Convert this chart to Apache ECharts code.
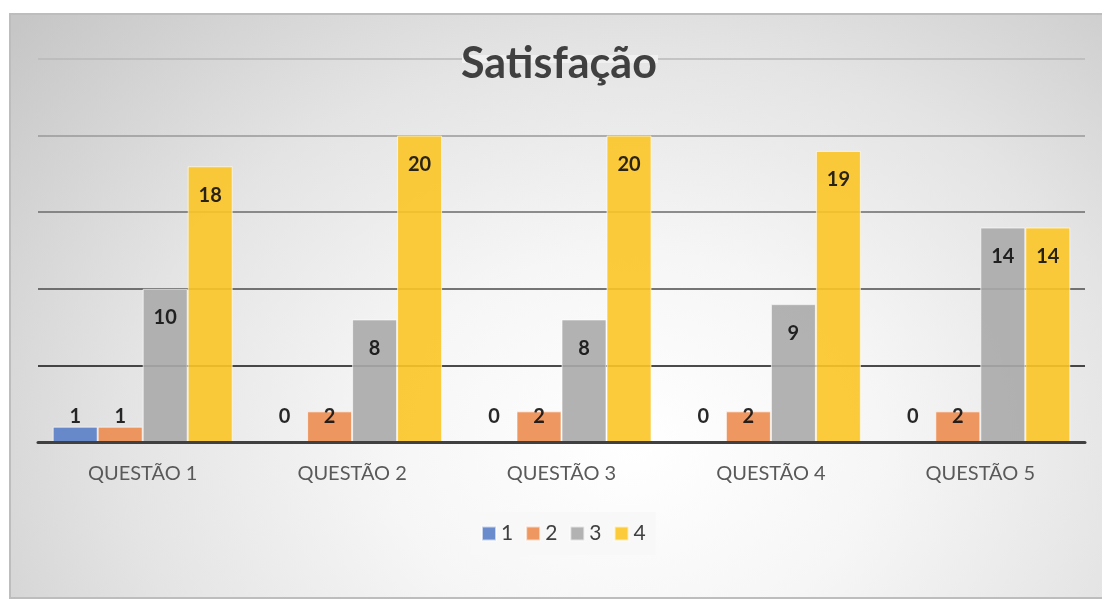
<!DOCTYPE html>
<html>
<head>
<meta charset="utf-8">
<script src="https://cdn.jsdelivr.net/npm/echarts@6/dist/echarts.min.js"></script>
<style>
  html, body { margin: 0; padding: 0; background: #fff; }
  #frame {
    position: absolute; left: 9px; top: 13px; width: 1093px; height: 586px;
    box-sizing: border-box; border: 2px solid #bdbdbd; border-right: none;
    background: radial-gradient(ellipse 75% 110% at 57% 74%, #ffffff 0%, #f6f6f6 30%, #e4e4e4 62%, #c6c6c6 100%);
  }
  #chart { position: absolute; left: 0; top: 0; width: 1102px; height: 601px; }
</style>
</head>
<body>
<div id="frame"></div>
<div id="chart"></div>
<script>
const categories = ['QUESTÃO 1', 'QUESTÃO 2', 'QUESTÃO 3', 'QUESTÃO 4', 'QUESTÃO 5'];
const seriesNames = ['1', '2', '3', '4'];
const values1 = [1, 0, 0, 0, 0];
const values2 = [1, 2, 2, 2, 2];
const values3 = [10, 8, 8, 9, 14];
const values4 = [18, 20, 20, 19, 14];
const colors = ['#5a80c8', '#ec8c50', '#aaaaaa', '#fcc527'];

const chart = echarts.init(document.getElementById('chart'));

function withLabels(values) {
  return values.map((v) => ({
    value: v,
    itemStyle: v === 0 ? { borderWidth: 0 } : undefined,
    label: v < 5
      ? { position: 'insideBottom', distance: 15 }
      : { position: 'insideTop', distance: 19 },
  }));
}

const option = {
  backgroundColor: 'transparent',
  animation: false,
  color: colors,
  title: {
    text: 'Satisfação',
    left: 461,
    top: 43,
    padding: 0,
    textStyle: {
      fontFamily: 'Lato',
      fontSize: 43,
      fontWeight: 'bold',
      color: '#404040',
    },
  },
  legend: {
    data: seriesNames,
    left: 471,
    top: 512,
    padding: [11, 10],
    backgroundColor: '#f8f8f8',
    itemWidth: 14,
    itemHeight: 14,
    itemGap: 12,
    icon: 'rect',
    textStyle: {
      fontFamily: 'Lato',
      fontSize: 21,
      color: '#404040',
    },
  },
  grid: {
    left: 38,
    right: 17,
    top: 59,
    bottom: 159,
  },
  xAxis: {
    type: 'category',
    data: categories,
    z: 5,
    axisLine: { lineStyle: { color: '#404040', width: 3 } },
    axisTick: { show: false },
    axisLabel: {
      fontFamily: 'Lato',
      fontSize: 20,
      color: '#595959',
      margin: 22,
    },
  },
  yAxis: {
    type: 'value',
    min: 0,
    max: 25,
    interval: 5,
    axisLabel: { show: false },
    axisLine: { show: false },
    axisTick: { show: false },
    splitLine: {
      lineStyle: {
        color: ['#444444', '#111111', '#4a4a4a', '#6a6a6a', '#999999', '#b8b8b8'],
        width: 1.5,
      },
    },
  },
  graphic: [{
    // hide the top gridline behind the title text
    type: 'rect',
    left: 462,
    top: 55,
    shape: { width: 196, height: 8 },
    style: { fill: '#f0f0f0' },
    z: 1,
  }],
  series: [values1, values2, values3, values4].map((vals, i) => ({
    name: seriesNames[i],
    type: 'bar',
    barWidth: 45,
    barGap: '0%',
    data: withLabels(vals),
    itemStyle: {
      color: colors[i],
      opacity: 0.9,
      borderColor: 'rgba(255,255,255,0.7)',
      borderWidth: 1,
    },
    label: {
      show: true,
      fontFamily: 'Lato',
      fontSize: 20,
      fontWeight: 'bold',
      color: '#111111',
    },
  })),
};

chart.setOption(option);
</script>
</body>
</html>
